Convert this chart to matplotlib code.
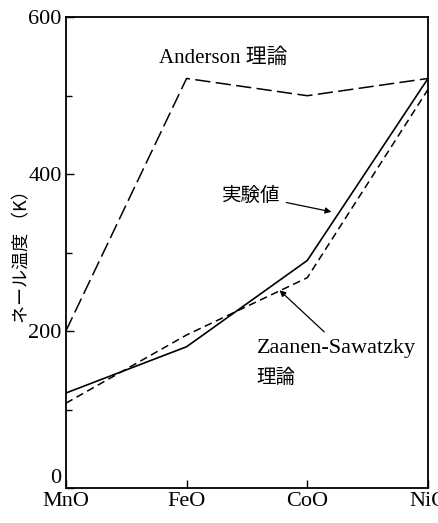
import matplotlib
matplotlib.use("Agg")
import matplotlib.pyplot as plt

compounds = ["MnO", "FeO", "CoO", "NiO"]
anderson = [200, 522, 500, 522]
experiment = [121, 180, 290, 522]
zaanen = [108, 195, 268, 508]
yticks = [0, 200, 400, 600]
yminor = [100, 300, 500]

serif = ["Liberation Serif", "DejaVu Serif"]
cjk = ["Noto Sans CJK JP", "DejaVu Sans"]
mixed = ["Liberation Serif", "Noto Sans CJK JP"]

fig = plt.figure(figsize=(4.39, 5.23), dpi=100)
ax = fig.add_axes([0.150, 0.067, 0.825, 0.900])
x = list(range(len(compounds)))

ax.plot(x, anderson, color="black", lw=1.1, dashes=(10, 3.5))
ax.plot(x, experiment, color="black", lw=1.2, solid_joinstyle="miter")
ax.plot(x, zaanen, color="black", lw=1.1, dashes=(5, 3))

ax.set_xlim(0, 3)
ax.set_ylim(0, 600)
ax.set_xticks(x)
ax.set_xticklabels(compounds, fontfamily=serif, fontsize=16)
ax.set_yticks(yticks)
ax.set_yticklabels([str(v) for v in yticks], fontfamily=serif, fontsize=16)
ax.get_yticklabels()[0].set_va("bottom")
ax.set_yticks(yminor, minor=True)
ax.tick_params(axis="both", which="major", direction="in", length=6, width=1, pad=3)
ax.tick_params(axis="y", which="minor", direction="in", length=4, width=1)
ax.tick_params(axis="x", which="major", pad=3)
for s in ax.spines.values():
    s.set_linewidth(1.3)

ax.set_ylabel("ネール温度 （K）", fontfamily=cjk, fontsize=13, labelpad=-2)

ax.text(1.30, 548, "Anderson 理論", fontfamily=mixed, fontsize=15,
        ha="center", va="center")
ax.annotate("実験値", xy=(2.2, 352), xytext=(1.78, 373),
            fontfamily=cjk, fontsize=14, ha="right", va="center",
            arrowprops=dict(arrowstyle="-|>", color="black", lw=0.9,
                            mutation_scale=9, shrinkA=2, shrinkB=0))
ax.annotate("", xy=(1.77, 252), xytext=(2.14, 199),
            arrowprops=dict(arrowstyle="-|>", color="black", lw=0.9,
                            mutation_scale=9, shrinkA=0, shrinkB=0))
ax.text(1.58, 178, "Zaanen-Sawatzky", fontfamily=mixed, fontsize=16,
        ha="left", va="center")
ax.text(1.58, 141, "理論", fontfamily=cjk, fontsize=14,
        ha="left", va="center")

fig.savefig("out.png", dpi=100)
